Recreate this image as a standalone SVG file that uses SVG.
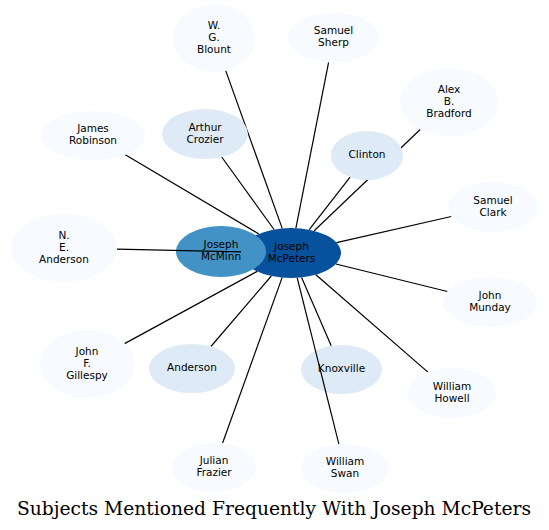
<svg xmlns="http://www.w3.org/2000/svg" width="549" height="530" viewBox="0 0 549 530">
<style>
.n text{font-family:"DejaVu Sans","Liberation Sans",sans-serif;font-size:10.5px;fill:#000;text-anchor:middle}
.l0{fill:#f7fbff}
.l1{fill:#deebf7}
.e line{stroke:#000;stroke-width:1.2}
.title{font-family:"DejaVu Serif","Liberation Serif",serif;font-size:18.3px;fill:#000;text-anchor:middle}
</style>
<rect width="549" height="530" fill="#fff"/>
<g id="knoxville" class="n"><ellipse class="l1" cx="341.5" cy="369.5" rx="40.5" ry="24.5"/><text x="341.5" y="372.3">Knoxville</text></g>
<g id="joseph-mcpeters" class="n"><ellipse cx="291" cy="253" rx="50" ry="25" fill="#08519c"/><text x="291.5" y="249.8">Joseph</text><text x="291.5" y="261.8">McPeters</text></g>
<g id="joseph-mcminn" class="n"><ellipse cx="221" cy="251.5" rx="45" ry="25.5" fill="#4292c6"/><text x="221" y="248.3">Joseph</text><text x="221" y="260.3">McMinn</text></g>
<g id="connectors" class="e">
<line x1="282.2" y1="228.4" x2="225.7" y2="70.6"/>
<line x1="295.9" y1="228.1" x2="328.6" y2="62.3"/>
<line x1="314.2" y1="230.8" x2="420.2" y2="129.5"/>
<line x1="309.2" y1="229.7" x2="350.1" y2="177.1"/>
<line x1="336.5" y1="242.6" x2="451.4" y2="216.5"/>
<line x1="258.8" y1="233.9" x2="125.3" y2="154.7"/>
<line x1="274" y1="229.5" x2="221.7" y2="157"/>
<line x1="241" y1="251.9" x2="117" y2="249.2"/>
<line x1="257.2" y1="271.4" x2="124.6" y2="343.6"/>
<line x1="271.3" y1="276" x2="210.9" y2="346.5"/>
<line x1="282.1" y1="277.6" x2="222.6" y2="443"/>
<line x1="301.6" y1="277.4" x2="331.2" y2="345.8"/>
<line x1="297.2" y1="277.8" x2="338.9" y2="444.2"/>
<line x1="315.9" y1="274.7" x2="427.9" y2="372.1"/>
<line x1="335.9" y1="264" x2="447.4" y2="291.5"/>
</g>
<g id="wg-blount" class="n"><ellipse class="l0" cx="214" cy="38" rx="41" ry="34"/><text x="214" y="28.8">W.</text><text x="214" y="40.8">G.</text><text x="214" y="52.8">Blount</text></g>
<g id="samuel-sherp" class="n"><ellipse class="l0" cx="333.5" cy="37.5" rx="45.5" ry="25"/><text x="333.5" y="34.3">Samuel</text><text x="333.5" y="46.3">Sherp</text></g>
<g id="alex-b-bradford" class="n"><ellipse class="l0" cx="449" cy="102" rx="49" ry="34"/><text x="449" y="92.8">Alex</text><text x="449" y="104.8">B.</text><text x="449" y="116.8">Bradford</text></g>
<g id="clinton" class="n"><ellipse class="l1" cx="367" cy="155.5" rx="36" ry="24.5"/><text x="367" y="158.3">Clinton</text></g>
<g id="samuel-clark" class="n"><ellipse class="l0" cx="493" cy="207" rx="45" ry="25"/><text x="493" y="203.8">Samuel</text><text x="493" y="215.8">Clark</text></g>
<g id="james-robinson" class="n"><ellipse class="l0" cx="93" cy="135.5" rx="52" ry="24.5"/><text x="93" y="132.3">James</text><text x="93" y="144.3">Robinson</text></g>
<g id="arthur-crozier" class="n"><ellipse class="l1" cx="205" cy="134" rx="43" ry="25"/><text x="205" y="130.8">Arthur</text><text x="205" y="142.8">Crozier</text></g>
<g id="ne-anderson" class="n"><ellipse class="l0" cx="64" cy="248" rx="53" ry="34"/><text x="64" y="238.8">N.</text><text x="64" y="250.8">E.</text><text x="64" y="262.8">Anderson</text></g>
<g id="john-f-gillespy" class="n"><ellipse class="l0" cx="87" cy="364" rx="47" ry="34"/><text x="87" y="354.8">John</text><text x="87" y="366.8">F.</text><text x="87" y="378.8">Gillespy</text></g>
<g id="anderson" class="n"><ellipse class="l1" cx="192" cy="368.5" rx="43" ry="24.5"/><text x="192" y="371.3">Anderson</text></g>
<g id="julian-frazier" class="n"><ellipse class="l0" cx="214" cy="467.5" rx="42" ry="24.5"/><text x="214" y="464.3">Julian</text><text x="214" y="476.3">Frazier</text></g>
<g id="william-swan" class="n"><ellipse class="l0" cx="345" cy="468.5" rx="44" ry="24.5"/><text x="345" y="465.3">William</text><text x="345" y="477.3">Swan</text></g>
<g id="john-munday" class="n"><ellipse class="l0" cx="490" cy="302" rx="47" ry="25"/><text x="490" y="298.8">John</text><text x="490" y="310.8">Munday</text></g>
<g id="william-howell" class="n"><ellipse class="l0" cx="452" cy="393" rx="44" ry="25"/><text x="452" y="389.8">William</text><text x="452" y="401.8">Howell</text></g>
<text class="title" x="274" y="514.5" textLength="514" lengthAdjust="spacingAndGlyphs">Subjects Mentioned Frequently With Joseph McPeters</text>
</svg>
